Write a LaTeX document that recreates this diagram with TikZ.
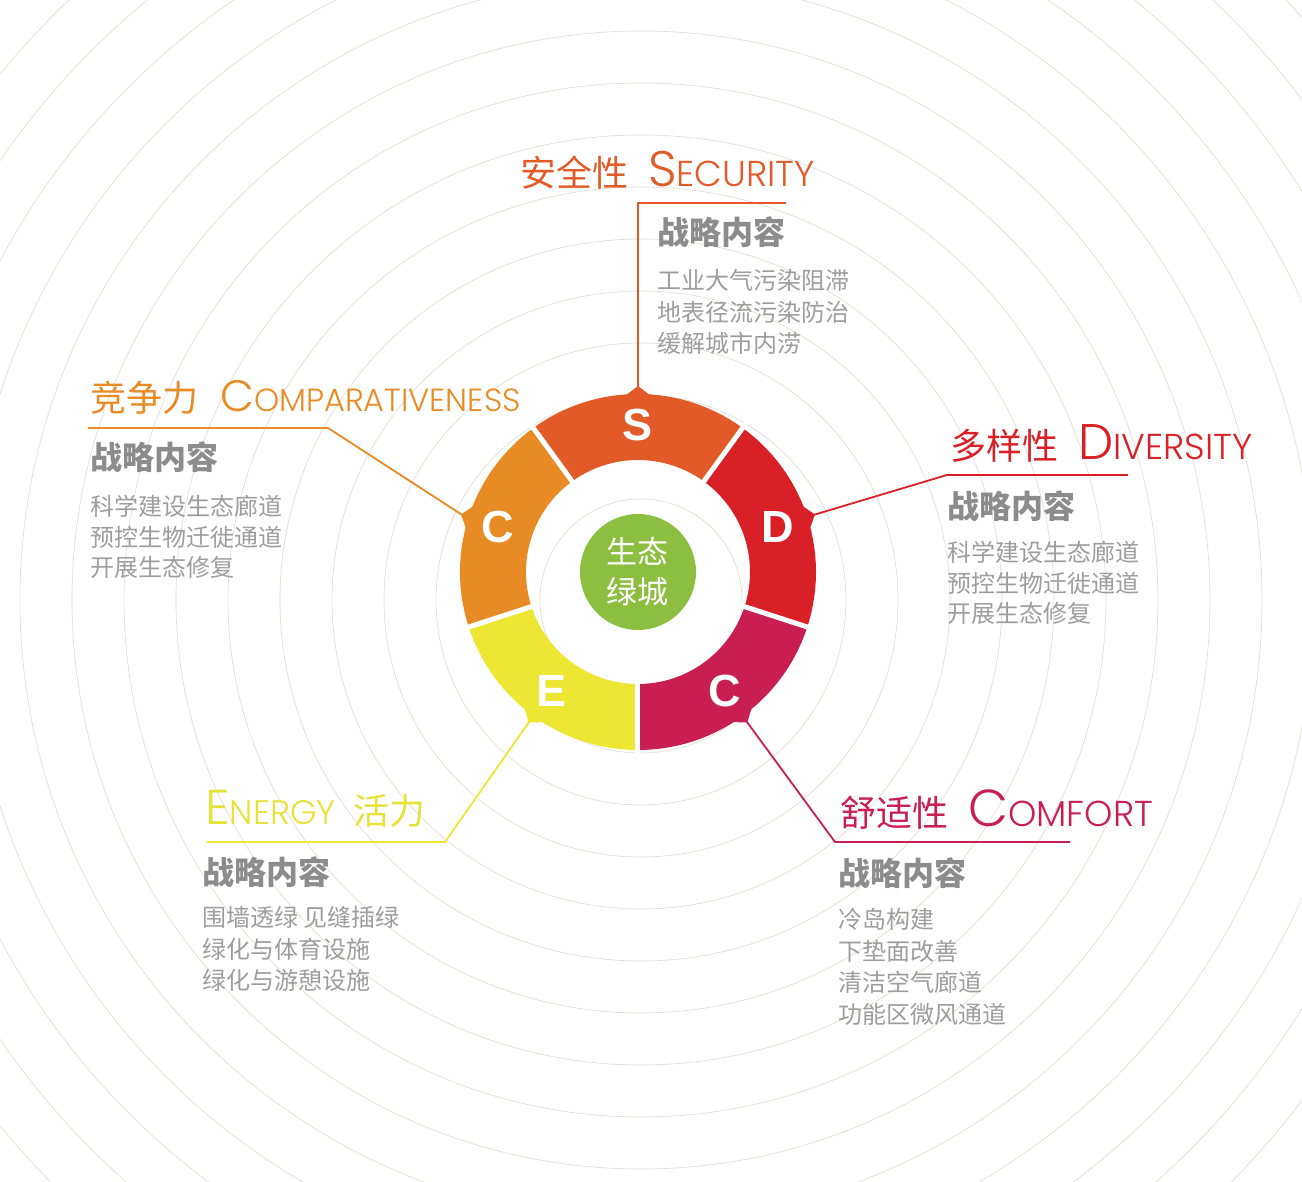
\documentclass[tikz,border=0pt]{standalone}
\usepackage{fontspec}
\usetikzlibrary{positioning}
\newfontfamily\cjk{Noto Sans CJK SC}
\newfontfamily\latfont{Poppins Light}
\newfontfamily\segfont{Liberation Sans}
\definecolor{ringgray}{HTML}{E2DDD5}
\definecolor{segS}{HTML}{E15A27}
\definecolor{segD}{HTML}{DA2027}
\definecolor{segCm}{HTML}{C81E52}
\definecolor{segE}{HTML}{EDE633}
\definecolor{segCo}{HTML}{E88B24}
\definecolor{titleE}{HTML}{E6E23A}
\definecolor{coregreen}{HTML}{8CBE3F}
\definecolor{headgray}{HTML}{8C8C8C}
\definecolor{itemgray}{HTML}{9D9D9D}
\newcommand{\capword}[4]{{\latfont\fontsize{#1}{#1}\selectfont #3\fontsize{#2}{#2}\selectfont #4}}

\begin{document}
\begin{tikzpicture}[x=1pt,y=1pt,
 ringline/.style={draw=ringgray,line width=0.7pt},
 segletter/.style={text=white,inner sep=0,font=\segfont\bfseries\fontsize{45}{45}\selectfont},
 titletext/.style={anchor=base west,inner sep=0,font=\cjk\fontsize{36}{40}\selectfont},
 headtext/.style={anchor=base west,inner sep=0,text=headgray,font=\cjk\bfseries\fontsize{32}{36}\selectfont},
 itemtext/.style={anchor=base west,inner sep=0,text=itemgray,font=\cjk\fontsize{24}{28}\selectfont},
 leader/.style={line width=1.8pt}
]
\useasboundingbox (-638,-610) rectangle (664,572);
% background rings
\foreach \k in {0,...,16}
  \draw[ringline] (3,-28) circle[radius={101pt+52pt*\k}];
% ring segments with their tabs
\foreach \ang/\col in {90/segS,18/segD,-54/segCm,-126/segE,162/segCo}{
  \fill[\col] ({\ang-36}:178pt) arc[start angle=\ang-36,end angle=\ang+36,radius=178pt]
    -- ({\ang+36}:112pt) arc[start angle=\ang+36,end angle=\ang-36,radius=112pt] -- cycle;
  \fill[\col] ({\ang-4.5}:176pt) -- (\ang:186pt) -- ({\ang+4.5}:176pt) -- cycle;
}
\foreach \ang in {54,-18,-90,-162,126}
  \draw[white,line width=5pt] (\ang:106pt) -- (\ang:184pt);
\foreach \ang/\ch/\nm in {90/S/lets,18/D/letd,-54/C/letcm,-126/E/lete,162/C/letco}
  \node[segletter] (\nm) at (\ang:147pt) {\ch};
\node[circle,fill=coregreen,minimum size=116pt,inner sep=0,align=center,text=white,
  font=\cjk\fontsize{31}{40}\selectfont] (core) at (0,0) {生态\\绿城};

% security
\coordinate (tipS) at (90:185pt);
\coordinate (kneeS) at (0,369);
\coordinate (endS) at (148,369);
\draw[leader,segS] (tipS) -- (kneeS) -- (endS);
\node[titletext,text=segS] (titleS) at (-118,385) {安全性\hspace{20pt}\capword{50}{36}{S}{ECURITY}};
\node[headtext] (headS) at (19,327) {战略内容};
\foreach \t [count=\i from 0] in {工业大气污染阻滞,地表径流污染防治,缓解城市内涝}
  \node[itemtext] (itemS\i) at (19,{282-31.5*\i}) {\t};

% comparativeness
\coordinate (tipCo) at (162:185pt);
\coordinate (kneeCo) at (-310,144);
\coordinate (endCo) at (-550,144);
\draw[leader,segCo] (tipCo) -- (kneeCo) -- (endCo);
\node[titletext,text=segCo] (titleCo) at (-548,160) {竞争力\hspace{22pt}\capword{44}{32}{C}{OMPARATIVENESS}};
\node[headtext] (headCo) at (-548,102) {战略内容};
\foreach \t [count=\i from 0] in {科学建设生态廊道,预控生物迁徙通道,开展生态修复}
  \node[itemtext] (itemCo\i) at (-548,{56-30.5*\i}) {\t};

% diversity
\coordinate (tipD) at (18:185pt);
\coordinate (kneeD) at (309,97);
\coordinate (endD) at (490,97);
\draw[leader,segD] (tipD) -- (kneeD) -- (endD);
\node[titletext,text=segD] (titleD) at (312,112) {多样性\hspace{20pt}\capword{50}{36}{D}{IVERSITY}};
\node[headtext] (headD) at (309,53) {战略内容};
\foreach \t [count=\i from 0] in {科学建设生态廊道,预控生物迁徙通道,开展生态修复}
  \node[itemtext] (itemD\i) at (309,{10-30.5*\i}) {\t};

% comfort
\coordinate (tipCm) at (-54:185pt);
\coordinate (kneeCm) at (197,-270);
\coordinate (endCm) at (432,-270);
\draw[leader,segCm] (tipCm) -- (kneeCm) -- (endCm);
\node[titletext,text=segCm] (titleCm) at (202,-255) {舒适性\hspace{20pt}\capword{52}{36}{C}{OMFORT}};
\node[headtext] (headCm) at (200,-314) {战略内容};
\foreach \t [count=\i from 0] in {冷岛构建,下垫面改善,清洁空气廊道,功能区微风通道}
  \node[itemtext] (itemCm\i) at (200,{-357-31.5*\i}) {\t};

% energy
\coordinate (tipE) at (-126:185pt);
\coordinate (kneeE) at (-193,-270);
\coordinate (endE) at (-431,-270);
\draw[leader,segE] (tipE) -- (kneeE) -- (endE);
\node[titletext,text=titleE] (titleE) at (-433,-253) {\capword{49}{34}{E}{NERGY}\hspace{18pt}活力};
\node[headtext] (headE) at (-436,-313) {战略内容};
\foreach \t [count=\i from 0] in {围墙透绿 见缝插绿,绿化与体育设施,绿化与游憩设施}
  \node[itemtext] (itemE\i) at (-436,{-355-31.5*\i}) {\t};
\end{tikzpicture}
\end{document}
